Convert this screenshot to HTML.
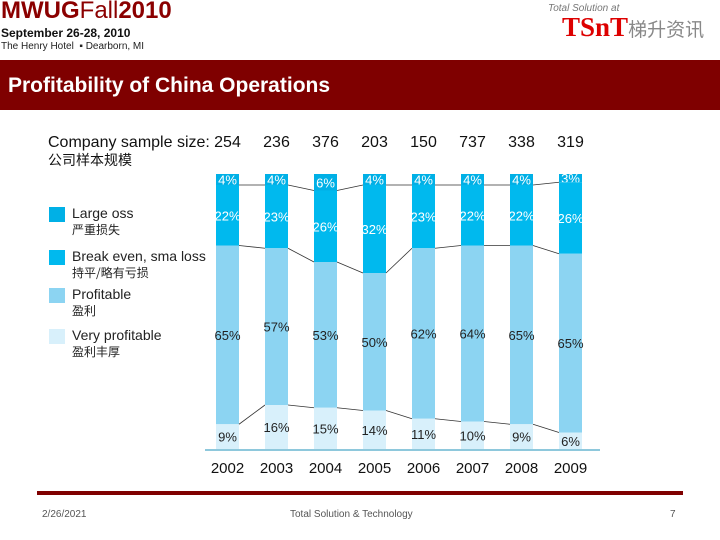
<!DOCTYPE html>
<html><head><meta charset="utf-8"><style>
body{margin:0;width:720px;height:540px;background:#fff;overflow:hidden;position:relative;font-family:"Liberation Sans","Noto Sans CJK SC",sans-serif}
.a{position:absolute}
</style></head><body>
<div class="a" style="left:1px;top:-3px;font-size:24px;font-weight:bold;color:#8b0000">MWUG<span style="font-weight:normal">Fall</span>2010</div>
<div class="a" style="left:1px;top:26px;font-size:12px;font-weight:bold;color:#111">September 26-28, 2010</div>
<div class="a" style="left:1px;top:41px;font-size:10px;color:#222">The Henry Hotel &nbsp;▪ Dearborn, MI</div>
<div class="a" style="left:548px;top:3px;font-size:10px;font-style:italic;color:#777">Total Solution at</div>
<div class="a" style="left:562px;top:12px;font-size:27px;font-weight:bold;font-family:'Liberation Serif',serif;color:#d00">TSnT<span style="font-family:'Noto Sans CJK SC',sans-serif;font-weight:normal;font-size:19px;color:#888">梯升资讯</span></div>
<div class="a" style="left:0;top:60px;width:720px;height:50px;background:#7f0000"></div>
<div class="a" style="left:8px;top:74px;font-size:21px;font-weight:bold;color:#fff">Profitability of China Operations</div>
<svg class="a" style="left:0;top:0" width="720" height="540" id="chart">
<text x="48" y="147" font-size="16" fill="#111">Company sample size:</text>
<text x="48" y="165" font-size="14" fill="#111" font-family="Noto Sans CJK SC,sans-serif">公司样本规模</text>
<line x1="205" y1="450" x2="600" y2="450" stroke="#4aa8c8" stroke-width="1.2"/>
<g id="legend"></g><g id="bars"></g>
</svg>
<div class="a" style="left:37px;top:491px;width:646px;height:4px;background:#7f0000"></div>
<div class="a" style="left:42px;top:509px;font-size:10px;color:#555">2/26/2021</div>
<div class="a" style="left:290px;top:509px;font-size:10px;color:#555">Total Solution &amp; Technology</div>
<div class="a" style="left:670px;top:509px;font-size:10px;color:#555">7</div>
<script>
const years=['2002','2003','2004','2005','2006','2007','2008','2009'];
const samples=[254,236,376,203,150,737,338,319];
const largeLoss=[4,4,6,4,4,4,4,3];
const breakEven=[22,23,26,32,23,22,22,26];
const profitable=[65,57,53,50,62,64,65,65];
const veryProfitable=[9,16,15,14,11,10,9,6];
const seriesNames=['Large  oss','Break even, sma  loss','Profitable','Very profitable'];
const seriesCn=['严重损失','持平/略有亏损','盈利','盈利丰厚'];
const colors=['#00b0e6','#00b9ee','#8cd4f2','#d8f0fb'];
const textCol=['#fff','#fff','#222','#222'];
const NS='http://www.w3.org/2000/svg';
const X0=216,PITCH=49,BW=23,TOP=174,PX=2.75;
const xOf=i=>X0+i*PITCH, yOf=p=>TOP+p*PX;
const series=[largeLoss,breakEven,profitable,veryProfitable];
const g=document.getElementById('bars');
function mk(t,a,p){const e=document.createElementNS(NS,t);for(const k in a)e.setAttribute(k,a[k]);(p||g).appendChild(e);return e;}
const bounds=years.map((y,i)=>{let c=0;return series.map(s=>{const a=c;c+=s[i];return [a,c];});});
years.forEach((y,i)=>{
  const x=xOf(i);
  const st=mk('text',{x:x+BW/2,y:147,'font-size':16,'text-anchor':'middle',fill:'#111'});st.textContent=samples[i];
  
  
  series.forEach((s,k)=>{
    const [a,b]=bounds[i][k];
    const r=mk('rect',{x:x,y:yOf(a),width:BW,height:(b-a)*PX,fill:colors[k]});
    
    
    const t=mk('text',{x:x+BW/2,y:yOf((a+b)/2)+5,'font-size':13,'text-anchor':'middle',fill:textCol[k]});
    t.textContent=s[i]+'%';
    
    
  });
  const yl=mk('text',{x:x+BW/2,y:473,'font-size':15,'text-anchor':'middle',fill:'#111'});yl.textContent=y;
  
  
  if(i<years.length-1){
    for(let k=0;k<3;k++){
      const l=mk('line',{x1:x+BW,y1:yOf(bounds[i][k][1]),x2:xOf(i+1),y2:yOf(bounds[i+1][k][1]),stroke:'#333','stroke-width':0.8});
      
      
    }
  }
});
const lg=document.getElementById('legend');
const ly=[207,250,288,329];
seriesNames.forEach((n,k)=>{
  const r=mk('rect',{x:49,y:ly[k],width:16,height:15,fill:colors[k]},lg);
  
  
  const t=mk('text',{x:72,y:ly[k]+11,'font-size':14,fill:'#222'},lg);t.textContent=n;
  
  
  const c=mk('text',{x:72,y:ly[k]+27,'font-size':12,fill:'#222','font-family':'Noto Sans CJK SC,sans-serif'},lg);c.textContent=seriesCn[k];
  
  
});
</script>
</body></html>
